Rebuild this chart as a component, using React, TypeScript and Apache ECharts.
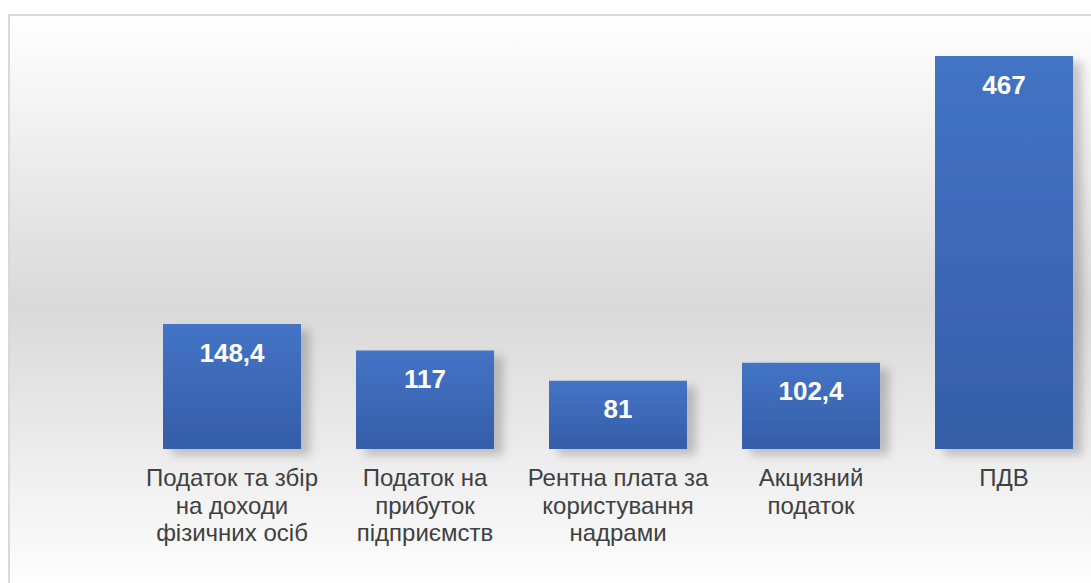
import React, { useEffect, useRef } from "react";
import * as echarts from "echarts";

const categories = [
  "Податок та збір\nна доходи\nфізичних осіб",
  "Податок на\nприбуток\nпідприємств",
  "Рентна плата за\nкористування\nнадрами",
  "Акцизний\nподаток",
  "ПДВ",
];
const values = [148.4, 117, 81, 102.4, 467];

export default function App() {
  const ref = useRef<HTMLDivElement>(null);
  useEffect(() => {
    document.body.style.overflow = "hidden";
    const chart = echarts.init(ref.current!, null, { renderer: "svg" });
    chart.setOption({
      animation: false,
      backgroundColor: new echarts.graphic.LinearGradient(0, 0, 0, 1, [
        { offset: 0, color: "#ffffff" },
        { offset: 0.5, color: "#d9d9d9" },
        { offset: 1, color: "#ffffff" },
      ]),
      grid: { left: 125.5, right: 9.5, top: 12.25, bottom: 147 },
      xAxis: {
        type: "category",
        data: categories,
        axisLine: { show: false },
        axisTick: { show: false },
        axisLabel: {
          margin: 15,
          interval: 0,
          color: "#404040",
          fontSize: 24,
          lineHeight: 27.5,
          fontFamily: "Liberation Sans, Arial, sans-serif",
          align: "center",
        },
      },
      yAxis: {
        type: "value",
        min: 0,
        max: 500,
        show: false,
        splitLine: { show: false },
      },
      series: [
        {
          type: "bar",
          data: values,
          barWidth: 138,
          itemStyle: {
            color: new echarts.graphic.LinearGradient(0, 0, 0, 1, [
              { offset: 0, color: "#4473c5" },
              { offset: 1, color: "#345ea8" },
            ]),
            shadowColor: "rgba(0,0,0,0.2)",
            shadowBlur: 10,
            shadowOffsetX: 9,
            shadowOffsetY: 6,
          },
          label: {
            show: true,
            position: "insideTop",
            distance: 15.5,
            color: "#ffffff",
            fontWeight: "bold",
            fontSize: 26,
            fontFamily: "Liberation Sans, Arial, sans-serif",
            formatter: (p: any) => String(p.value).replace(".", ","),
          },
        },
      ],
    });
    return () => chart.dispose();
  }, []);
  return (
    <div
      style={{
        position: "fixed",
        left: 8,
        top: 14,
        borderLeft: "2px solid #d9d9d9",
        borderTop: "2px solid #d9d9d9",
      }}
    >
      <div ref={ref} style={{ width: 1100, height: 580 }} />
    </div>
  );
}
